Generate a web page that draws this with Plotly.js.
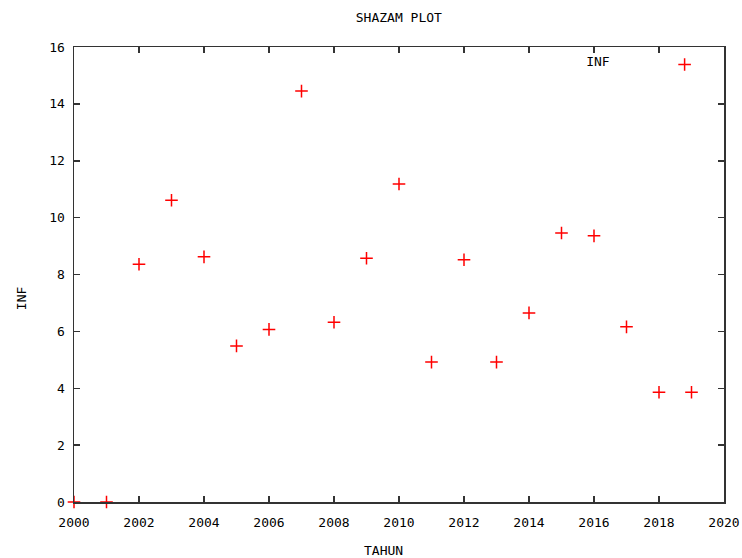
<!DOCTYPE html>
<html>
<head>
<meta charset="utf-8">
<script src="https://cdn.plot.ly/plotly-3.0.1.min.js"></script>
<style>html,body{margin:0;padding:0;background:#fff;}#chart{width:742px;height:558px;}</style>
</head>
<body>
<div id="chart"></div>
<script>
const years = [2000, 2001, 2002, 2003, 2004, 2005, 2006, 2007, 2008, 2009, 2010, 2011, 2012, 2013, 2014, 2015, 2016, 2017, 2018, 2019];
const infValues = [0, 0, 8.36, 10.61, 8.62, 5.49, 6.07, 14.45, 6.32, 8.57, 11.18, 4.92, 8.52, 4.92, 6.65, 9.46, 9.36, 6.16, 3.86, 3.86];
const xTicks = [2000, 2002, 2004, 2006, 2008, 2010, 2012, 2014, 2016, 2018, 2020];
const yTicks = [0, 2, 4, 6, 8, 10, 12, 14, 16];
const xTitle = 'TAHUN';
const yTitle = 'INF';
const seriesName = 'INF';

const font = {family: 'DejaVu Sans Mono, monospace', size: 13, color: '#000'};

const trace = {
  x: years,
  y: infValues,
  type: 'scatter',
  mode: 'markers',
  name: ' ',
  cliponaxis: false,
  marker: {symbol: 'cross-thin', size: 9, color: '#ff0000', line: {color: '#ff0000', width: 1.5}}
};

const axisCommon = {
  showgrid: false,
  zeroline: false,
  showline: true,
  linecolor: '#333',
  linewidth: 1.5,
  mirror: 'ticks',
  ticks: 'inside',
  ticklen: 6,
  tickwidth: 1.5,
  tickcolor: '#333',
  tickfont: font
};

const layout = {
  width: 742,
  height: 558,
  paper_bgcolor: '#fff',
  plot_bgcolor: '#fff',
  margin: {l: 74, r: 18, t: 47, b: 56},
  font: font,
  title: {text: 'SHAZAM PLOT', font: font, x: 0.5375, xanchor: 'center', y: 0.968, yanchor: 'middle'},
  xaxis: Object.assign({}, axisCommon, {
    range: [2000, 2020],
    tickvals: xTicks,
    ticktext: xTicks.map(String),
    ticklabelstandoff: 8
  }),
  yaxis: Object.assign({}, axisCommon, {
    range: [0, 16],
    tickvals: yTicks,
    ticktext: yTicks.map(String),
    ticklabelstandoff: 5
  }),
  annotations: [
    {text: xTitle, xref: 'paper', yref: 'paper', x: 0.4754, y: -0.1055,
     xanchor: 'center', yanchor: 'middle', showarrow: false, font: font},
    {text: yTitle, xref: 'paper', yref: 'paper', x: -0.0815, y: 0.448,
     xanchor: 'center', yanchor: 'middle', showarrow: false, textangle: -90, font: font}
  ],
  showlegend: true,
  legend: {
    x: 0.991, xanchor: 'right', y: 0.9945, yanchor: 'top',
    bgcolor: 'rgba(0,0,0,0)',
    font: font,
    title: {text: seriesName + '\u00a0\u00a0\u00a0\u00a0\u00a0\u00a0', side: 'left', font: font},
    itemwidth: 30
  }
};

Plotly.newPlot('chart', [trace], layout, {displayModeBar: false, staticPlot: true});
</script>
</body>
</html>
